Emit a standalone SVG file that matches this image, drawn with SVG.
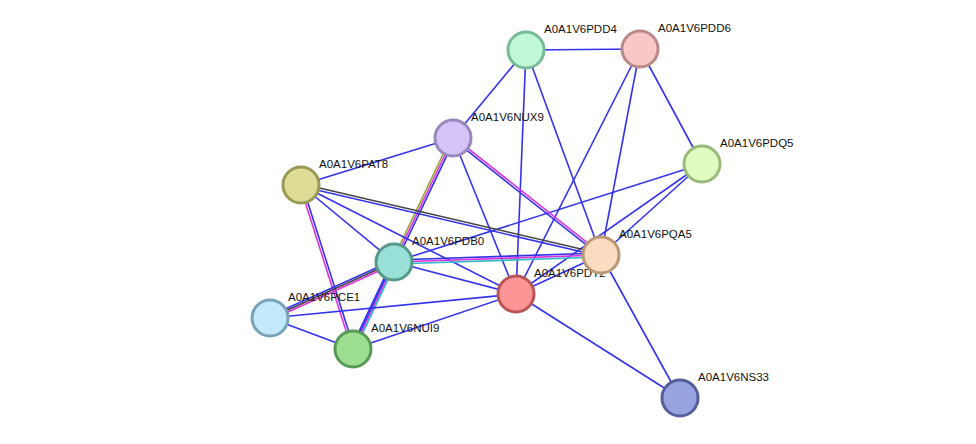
<svg xmlns="http://www.w3.org/2000/svg" width="976" height="444" viewBox="0 0 976 444">
<style>
line{stroke-width:1.6}
.b{stroke:#3333ee}.m{stroke:#dd33dd}.k{stroke:#444}.c{stroke:#33bbcc}.o{stroke:#99aa33}
circle{stroke-width:3}
text{font-family:"Liberation Sans",Arial,sans-serif;font-size:11.5px;fill:#111}
</style>
<rect width="976" height="444" fill="#fff"/>
<g id="connectors">
<line class="b" x1="526" y1="50" x2="640" y2="49"/>
<line class="b" x1="526" y1="50" x2="453" y2="138"/>
<line class="b" x1="526" y1="50" x2="516" y2="294"/>
<line class="b" x1="526" y1="50" x2="601" y2="255"/>
<line class="b" x1="640" y1="49" x2="516" y2="294"/>
<line class="b" x1="640" y1="49" x2="601" y2="255"/>
<line class="b" x1="640" y1="49" x2="702" y2="164"/>
<line class="b" x1="702" y1="164" x2="394" y2="262"/>
<line class="b" x1="702" y1="164" x2="601" y2="255"/>
<line class="b" x1="702" y1="164" x2="516" y2="294"/>
<line class="b" x1="453" y1="138" x2="301" y2="185"/>
<line class="o" x1="451.2" y1="137.1" x2="392.2" y2="261.1"/>
<line class="m" x1="453" y1="138" x2="394" y2="262"/>
<line class="b" x1="454.8" y1="138.9" x2="395.8" y2="262.9"/>
<line class="m" x1="453.7" y1="137.1" x2="601.7" y2="254.1"/>
<line class="b" x1="452.3" y1="138.9" x2="600.3" y2="255.9"/>
<line class="b" x1="453" y1="138" x2="516" y2="294"/>
<line class="k" x1="301.3" y1="183.8" x2="601.3" y2="253.8"/>
<line class="b" x1="300.7" y1="186.2" x2="600.7" y2="256.2"/>
<line class="b" x1="301" y1="185" x2="394" y2="262"/>
<line class="b" x1="301" y1="185" x2="516" y2="294"/>
<line class="b" x1="302.1" y1="184.6" x2="354.1" y2="348.6"/>
<line class="m" x1="299.9" y1="185.4" x2="351.9" y2="349.4"/>
<line class="b" x1="394" y1="260" x2="601" y2="253"/>
<line class="m" x1="394" y1="262" x2="601" y2="255"/>
<line class="c" x1="394" y1="264" x2="601" y2="257"/>
<line class="b" x1="394" y1="262" x2="516" y2="294"/>
<line class="b" x1="393.2" y1="260.2" x2="269.2" y2="316.2"/>
<line class="k" x1="394" y1="262" x2="270" y2="318"/>
<line class="m" x1="394.8" y1="263.8" x2="270.8" y2="319.8"/>
<line class="b" x1="392.2" y1="261.1" x2="351.2" y2="348.1"/>
<line class="b" x1="393.4" y1="261.7" x2="352.4" y2="348.7"/>
<line class="m" x1="394.6" y1="262.3" x2="353.6" y2="349.3"/>
<line class="c" x1="395.8" y1="262.9" x2="354.8" y2="349.9"/>
<line class="b" x1="270" y1="318" x2="516" y2="294"/>
<line class="b" x1="270" y1="318" x2="353" y2="349"/>
<line class="b" x1="353" y1="349" x2="516" y2="294"/>
<line class="b" x1="516" y1="294" x2="601" y2="255"/>
<line class="b" x1="516" y1="294" x2="680" y2="398"/>
<line class="b" x1="601" y1="255" x2="680" y2="398"/>
</g>
<g id="PDD4"><circle cx="526" cy="50" r="18" fill="#c0f8d8" stroke="#77bb99"/><text x="544" y="33">A0A1V6PDD4</text></g>
<g id="PDD6"><circle cx="640" cy="49" r="18" fill="#f8c8c8" stroke="#bb8888"/><text x="658" y="32">A0A1V6PDD6</text></g>
<g id="NUX9"><circle cx="453" cy="138" r="18" fill="#d4c4f8" stroke="#9988bb"/><text x="471" y="121">A0A1V6NUX9</text></g>
<g id="PDQ5"><circle cx="702" cy="164" r="18" fill="#e0fcc0" stroke="#99bb77"/><text x="720" y="147">A0A1V6PDQ5</text></g>
<g id="PAT8"><circle cx="301" cy="185" r="18" fill="#dfdc98" stroke="#999955"/><text x="319" y="168">A0A1V6PAT8</text></g>
<g id="PDT2"><circle cx="516" cy="294" r="18" fill="#fc9696" stroke="#bb5555"/><text x="534" y="277">A0A1V6PDT2</text></g>
<g id="PDB0"><circle cx="394" cy="262" r="18" fill="#98e0d8" stroke="#559988"/><text x="412" y="245">A0A1V6PDB0</text></g>
<g id="PQA5"><circle cx="601" cy="255" r="18" fill="#fcdcc0" stroke="#bb9977"/><text x="619" y="238">A0A1V6PQA5</text></g>
<g id="PCE1"><circle cx="270" cy="318" r="18" fill="#c4e8fc" stroke="#77a4bb"/><text x="288" y="301">A0A1V6PCE1</text></g>
<g id="NUI9"><circle cx="353" cy="349" r="18" fill="#9ede90" stroke="#559955"/><text x="371" y="332">A0A1V6NUI9</text></g>
<g id="NS33"><circle cx="680" cy="398" r="18" fill="#98a4e0" stroke="#555f99"/><text x="698" y="381">A0A1V6NS33</text></g>
</svg>
